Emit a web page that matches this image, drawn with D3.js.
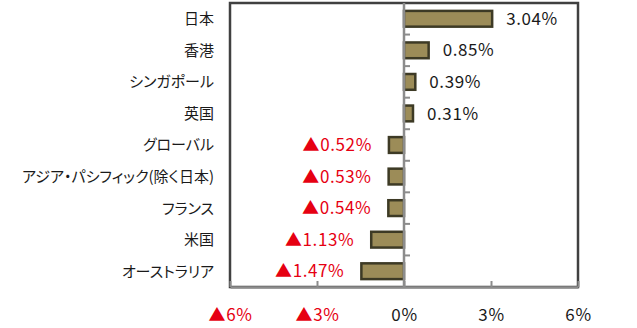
<!DOCTYPE html>
<html>
<head>
<meta charset="utf-8">
<script src="https://cdn.jsdelivr.net/npm/d3@7"></script>
<style>
  html, body { margin: 0; padding: 0; background: #fff; }
  svg { display: block; }
  text { font-family: "Noto Sans CJK JP", "Noto Sans", sans-serif; }
</style>
</head>
<body>
<svg id="chart" width="637" height="328"></svg>
<script>
// Returns by market (%), negative values are shown with ▲
const categories = ["日本", "香港", "シンガポール", "英国", "グローバル",
  "アジア・パシフィック(除く日本)", "フランス", "米国", "オーストラリア"];
const values = [3.04, 0.85, 0.39, 0.31, -0.52, -0.53, -0.54, -1.13, -1.47];
const tickValues = [-6, -3, 0, 3, 6];
const tickLabels = ["▲6%", "▲3%", "0%", "3%", "6%"];

const svg = d3.select("#chart");
const plotLeft = 230, plotRight = 578, plotTop = 3, plotBottom = 287;

const x = d3.scaleLinear().domain([-6, 6]).range([plotLeft, plotRight]);
const y = d3.scaleBand().domain(categories).range([plotTop, plotBottom]).paddingInner(0).paddingOuter(0);

const red = "#e60012";
const ink = "#1a1a1a";
const fmt = v => (v < 0 ? "▲" : "") + Math.abs(v).toFixed(2) + "%";

// plot frame
svg.append("rect")
  .attr("x", plotLeft).attr("y", plotTop)
  .attr("width", plotRight - plotLeft).attr("height", plotBottom - plotTop)
  .attr("fill", "none").attr("stroke", "#404040").attr("stroke-width", 2.5);

// bars
const barH = y.bandwidth() * 0.5;
svg.append("g").selectAll("rect")
  .data(values)
  .join("rect")
  .attr("x", d => Math.min(x(0), x(d)))
  .attr("y", (d, i) => y(categories[i]) + (y.bandwidth() - barH) / 2)
  .attr("width", d => Math.abs(x(d) - x(0)))
  .attr("height", barH)
  .attr("fill", "#9c8c58")
  .attr("stroke", "#3d3a25")
  .attr("stroke-width", 2.5);

// vertical zero axis with ticks at band edges
const gy = svg.append("g").attr("transform", `translate(${x(0)},0)`);
gy.append("line").attr("y1", plotTop).attr("y2", plotBottom)
  .attr("stroke", "#8c8c8c").attr("stroke-width", 2.5);
const edges = d3.range(1, categories.length).map(i => plotTop + i * y.step());
gy.selectAll("line.tk").data(edges).join("line").attr("class", "tk")
  .attr("x1", 0).attr("x2", 6).attr("y1", d => d).attr("y2", d => d)
  .attr("stroke", "#8c8c8c").attr("stroke-width", 2);

// bottom axis
const xAxis = d3.axisBottom(x).tickValues(tickValues).tickSize(0).tickFormat((d, i) => tickLabels[i]);
const gx = svg.append("g").attr("transform", `translate(0,${plotBottom})`).call(xAxis);
gx.select(".domain").attr("stroke", "#8c8c8c").attr("stroke-width", 2.5);
gx.selectAll(".tick").append("line")
  .attr("y1", 0).attr("y2", -6).attr("stroke", "#8c8c8c").attr("stroke-width", 2);
gx.selectAll(".tick text")
  .attr("y", 22)
  .attr("font-size", 17)
  .attr("letter-spacing", 0.6)
  .attr("font-family", "'Noto Sans CJK JP', sans-serif")
  .attr("fill", d => d < 0 ? red : ink);

// category labels
svg.append("g").selectAll("text")
  .data(categories)
  .join("text")
  .attr("x", 214)
  .attr("y", d => y(d) + y.bandwidth() / 2)
  .attr("dy", "0.36em")
  .attr("text-anchor", "end")
  .attr("font-size", 15)
  .style("font-feature-settings", "'palt'")
  .attr("fill", ink)
  .text(d => d);

// value labels
svg.append("g").selectAll("text")
  .data(values)
  .join("text")
  .attr("x", d => d >= 0 ? x(d) + 14 : x(d) - 17)
  .attr("y", (d, i) => y(categories[i]) + y.bandwidth() / 2)
  .attr("dy", "0.36em")
  .attr("text-anchor", d => d >= 0 ? "start" : "end")
  .attr("font-size", 17)
  .attr("letter-spacing", 0.6)
  .attr("fill", d => d < 0 ? red : ink)
  .text(fmt);
</script>
</body>
</html>
